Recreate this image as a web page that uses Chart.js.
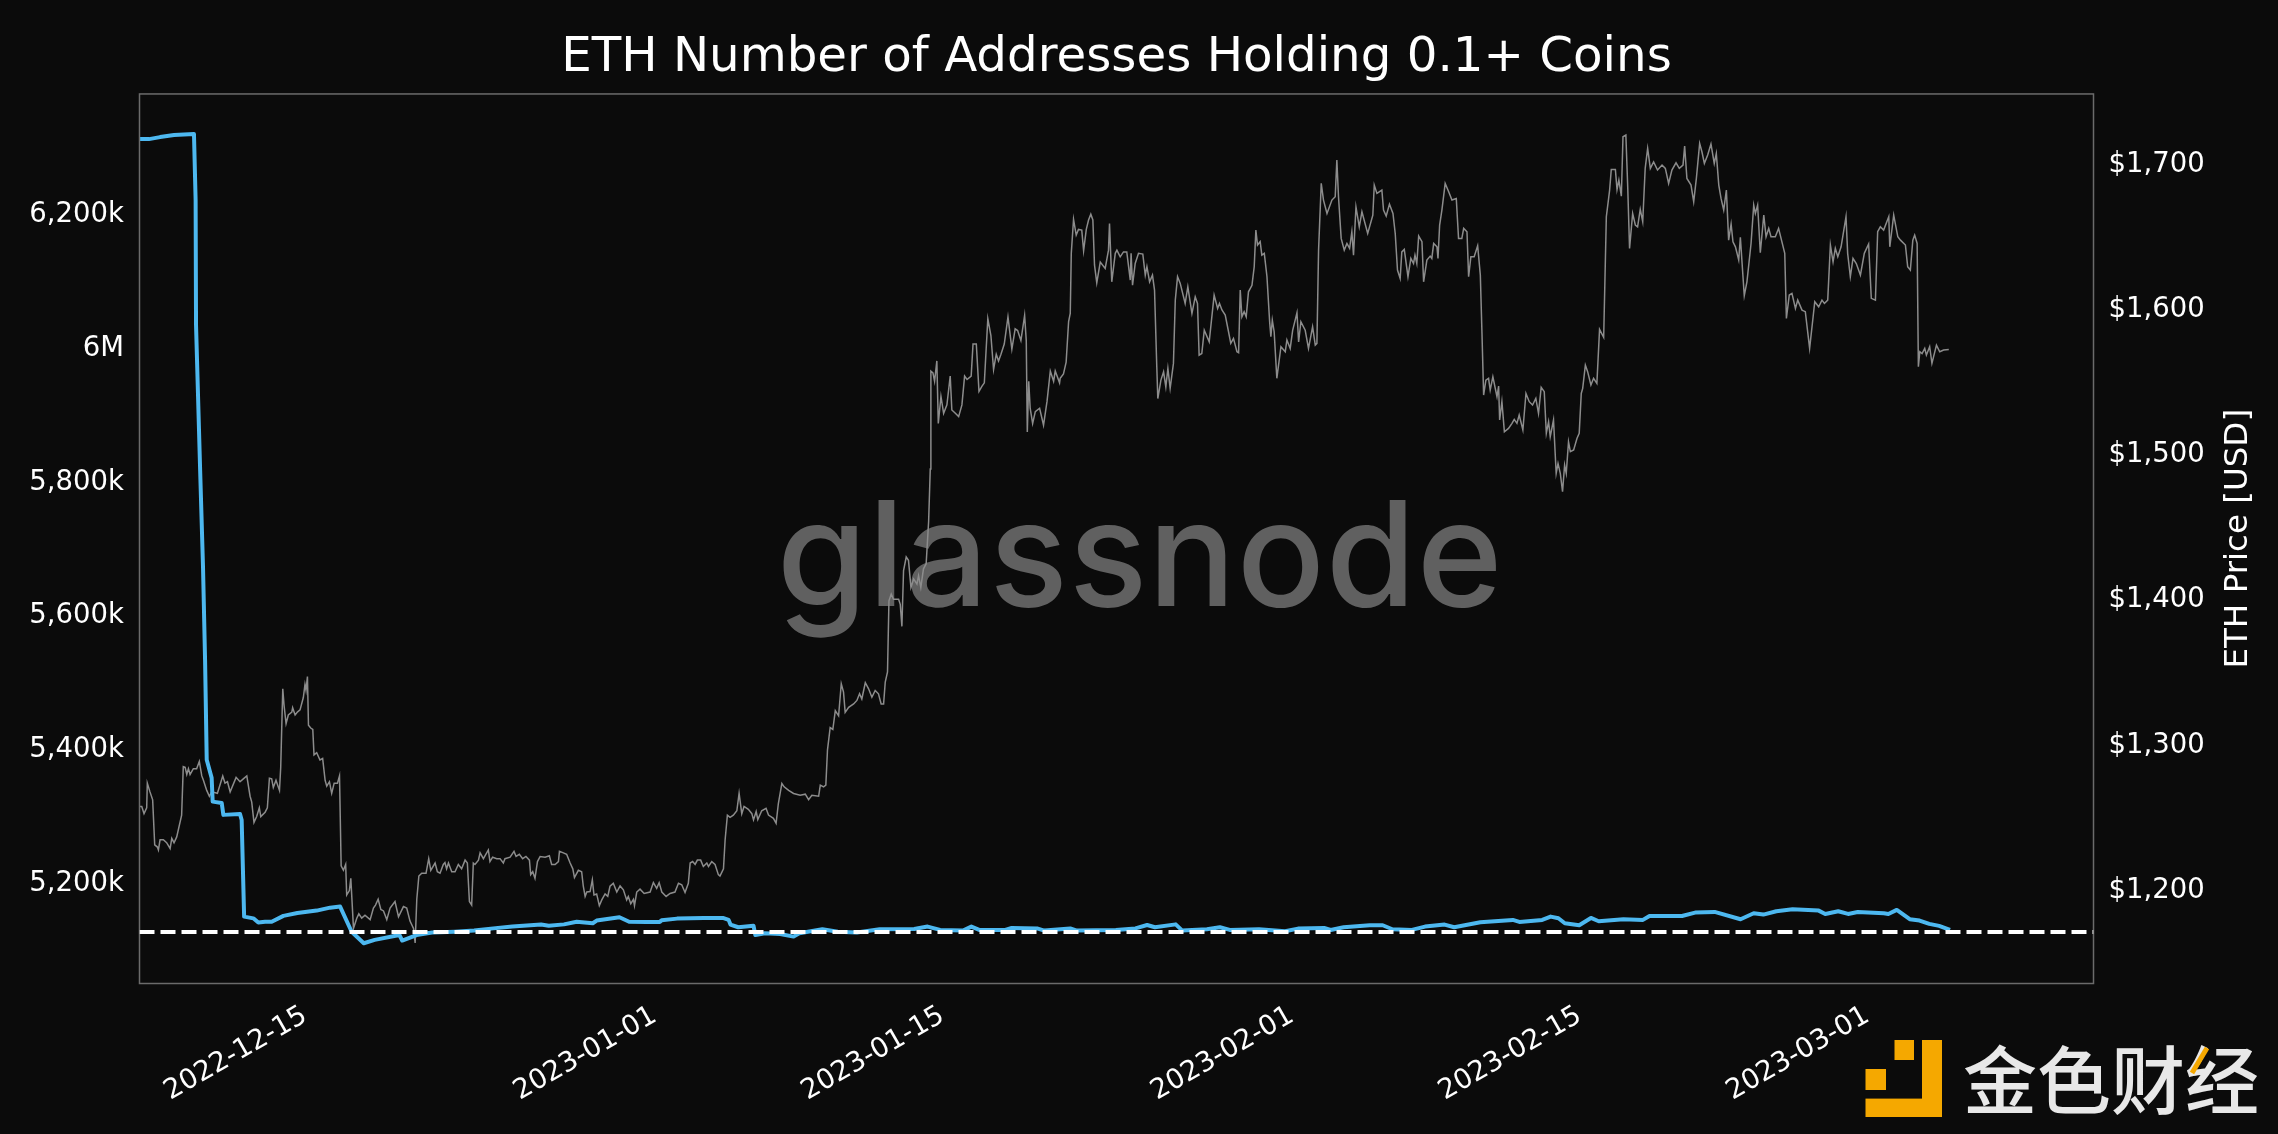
<!DOCTYPE html>
<html>
<head>
<meta charset="utf-8">
<style>
html,body{margin:0;padding:0;background:#0b0b0b;overflow:hidden}
#wrap{position:relative;width:2278px;height:1134px}
canvas{display:block;position:absolute;left:0;top:0;z-index:1}
#wm{position:absolute;left:640px;width:1000px;top:480px;text-align:center;font:500 146px/146px Inter,sans-serif;letter-spacing:0.8px;color:#606060;z-index:0;white-space:nowrap}
</style>
<script src="https://cdn.jsdelivr.net/npm/chart.js@4"></script>
</head>
<body>
<div id="wrap">
<div id="wm">glassnode</div>
<canvas id="c" width="2278" height="1134"></canvas>
</div>
<script>
// Days counted from 2022-12-01 (0 = Dec 1)
const xMin = 5.74, xMax = 100.8;
const xTickDays = [14, 31, 45, 62, 76, 90];
const xTickLabels = ['2022-12-15','2023-01-01','2023-01-15','2023-02-01','2023-02-15','2023-03-01'];
const leftTicks = [5200, 5400, 5600, 5800, 6000, 6200];
const leftTickLabels = ['5,200k','5,400k','5,600k','5,800k','6M','6,200k'];
const rightTicks = [1200, 1300, 1400, 1500, 1600, 1700];
const rightTickLabels = ['$1,200','$1,300','$1,400','$1,500','$1,600','$1,700'];
const thresholdValue = [5123.5, 5123.5];
const thresholdDays = [5.74, 100.8];

const holderDays = [5.77,6.20,6.74,7.42,8.39,8.47,8.49,8.69,8.83,8.93,9.01,9.25,9.30,9.74,9.82,10.63,10.71,10.83,11.28,11.52,11.85,12.17,12.74,13.42,14.36,15.01,
15.5,16.06,16.65,17.18,18.39,18.52,19.22,19.97,21.09,22.02,22.95,23.88,25.28,25.65,26.39,27.01,27.79,27.98,29.09,29.56,30.40,31.05,31.14,31.89,33.19,34.12,34.40,34.49,34.87,35.61,35.70,36.17,36.91,37.56,37.84,38.96,39.71,40.64,41.75,43.43,44.08,
44.69,45.8,46.21,46.59,47.86,48.17,49.44,49.76,51.02,51.34,53.24,54.19,54.76,55.14,56.15,56.47,57.67,58.30,58.78,60.20,61.47,62.10,63.37,63.69,64.32,65.59,66.22,66.69,67.64,68.28,69.23,69.70,70.97,72.55,72.87,73.98,74.39,74.77,75.08,75.78,76.35,76.73,77.93,78.88,79.20,80.78,81.42,82.37,83.63,84.27,84.74,85.37,86.16,87.43,87.75,88.38,88.86,89.33,90.60,90.82,91.23,91.86,92.34,92.81,93.29,93.82];
const holderCountK = [6309,6309,6312,6315,6316.6,6218,6031,5814,5669,5530,5381,5354,5318.5,5316.6,5298.7,5300,5291,5146.6,5144,5137.7,5139,5139,5147.7,5152,5155.6,5160,
5161.6,5124,5106.8,5111.8,5119,5110.8,5119,5122.7,5124,5125.7,5129,5131.7,5134.7,5133,5135,5139,5136.7,5140.7,5145.6,5139,5138.7,5138.7,5141,5143.6,5144.6,5144.6,5141.7,5134.7,5130.7,5133,5119,5121.7,5120.7,5116.7,5121.7,5127.7,5124,5122.7,5127.7,5128,5131.7,
5126.7,5125.7,5131.7,5126.7,5126.7,5129.7,5128.7,5125.7,5129,5125.7,5126.7,5129,5134,5130.7,5135,5125.7,5127.7,5130.7,5126.7,5127.7,5124.7,5128.7,5129.7,5126.7,5130.7,5133.7,5133.7,5127.7,5126.7,5131.7,5134.7,5130.7,5138.2,5141.7,5138.7,5141.7,5146.6,5144.1,5136.7,5133.7,5144.6,5139.7,5142.7,5141.7,5147.6,5147.6,5152.6,5153.6,5142.7,5151.6,5149.6,5154.6,5157.6,5155.6,5150.6,5154.6,5150.6,5153.6,5151.6,5150.6,5156.6,5142.7,5140.7,5135.7,5132.7,5126.7];

const priceDays = [5.77,5.85,5.96,6.09,6.12,6.25,6.38,6.48,6.61,6.66,6.74,6.90,7.06,7.23,7.31,7.42,7.55,7.79,7.87,7.96,8.04,8.12,8.20,8.36,8.52,8.65,8.77,8.85,9.01,9.14,9.25,9.53,9.79,9.90,10.02,10.15,10.44,10.63,10.79,10.96,11.12,11.20,11.31,11.44,11.57,11.64,11.85,11.96,12.06,12.17,12.25,12.38,12.55,12.61,12.71,12.77,12.87,12.98,13.15,13.19,13.31,13.42,13.55,13.71,13.79,13.84,13.91,13.96,14.07,14.17,14.23,14.36,14.52,14.65,14.77,14.85,14.98,15.09,15.21,15.37,15.47,15.55,15.66,15.77,15.82,15.95,16.02,16.15,16.31,16.41,16.55,16.71,16.96,17.12,17.22,17.35,17.48,17.61,17.77,17.93,18.17,18.34,18.58,18.74,18.90,19.07,19.15,19.23,19.33,19.47,19.68,19.81,19.91,20.12,20.23,20.36,
20.52,20.60,20.68,20.77,20.93,21.09,21.25,21.41,21.58,21.69,21.79,21.90,21.98,22.06,22.23,22.31,22.47,22.71,22.79,22.92,23.12,23.28,23.44,23.52,23.77,23.96,24.06,24.22,24.38,24.54,24.71,24.77,24.87,24.98,25.10,25.23,25.47,25.68,25.79,25.96,26.12,26.17,26.36,26.52,26.69,26.82,26.90,27.09,27.25,27.33,27.42,27.50,27.66,27.77,27.85,27.98,28.11,28.23,28.39,28.52,28.63,28.79,28.96,29.12,29.28,29.44,29.52,29.64,29.77,29.82,29.93,30.09,30.29,30.58,30.74,30.90,31.02,31.15,31.36,31.55,31.79,31.96,32.12,32.28,32.44,32.53,32.65,32.77,32.88,33.04,33.17,33.34,33.42,33.58,33.74,33.90,33.98,34.15,34.23,34.34,34.47,34.63,34.80,34.91,35.04,35.15,35.36,35.53,35.61,35.74,35.82,36.01,36.22,36.34,36.58,36.71,36.82,
36.99,37.10,37.32,37.56,37.88,38.13,38.29,38.45,38.78,38.86,39.02,39.13,39.21,39.34,39.47,39.59,39.75,39.88,39.99,40.07,40.24,40.48,40.64,40.77,40.88,41.05,41.21,41.37,41.53,41.69,41.82,41.94,42.02,42.13,42.20,42.31,42.42,42.67,42.75,42.83,42.91,43.04,43.15,43.27,43.40,43.56,43.64,43.75,43.88,44.01,44.13,44.21,44.24,44.34,44.42,44.53,44.60,44.73,44.86,45.02,45.18,45.26,45.43,45.59,45.75,45.88,46.0,46.20,46.29,46.45,46.58,46.72,46.84,47.01,47.16,47.29,47.42,47.53,47.65,47.81,47.99,48.18,48.34,48.46,48.62,48.80,48.88,48.93,49.0,49.07,49.19,49.32,49.53,49.72,49.89,50.05,50.21,50.29,50.50,
50.53,50.69,50.82,50.94,51.02,51.07,51.18,51.31,51.42,51.58,51.67,51.80,51.91,52.02,52.12,52.20,52.31,52.48,52.72,52.88,52.93,53.04,53.21,53.29,53.45,53.61,53.77,53.94,53.98,54.05,54.18,54.34,54.55,54.67,54.75,54.88,55.02,55.12,55.23,55.28,55.43,55.56,55.67,55.77,55.88,56.04,56.13,56.24,56.37,56.61,56.74,56.94,57.10,57.21,57.29,57.42,57.54,57.78,58.02,58.19,58.28,58.40,58.56,58.72,58.83,58.96,59.13,59.21,59.29,59.37,59.48,59.58,59.69,59.86,59.97,60.05,60.13,60.26,60.34,60.46,60.59,60.72,60.78,60.85,60.94,61.07,61.27,61.48,61.56,61.72,61.84,62.05,62.13,62.24,62.45,62.61,62.81,62.94,63.02,63.10,63.23,63.34,63.51,63.75,63.91,63.99,64.07,64.20,64.35,64.48,64.61,64.72,64.80,64.92,65.08,65.21,65.49,65.74,65.81,65.94,
66.18,66.26,66.39,66.55,66.72,66.83,66.94,67.07,67.15,67.27,67.45,67.59,67.72,67.79,67.88,67.97,68.13,68.21,68.37,68.53,68.61,68.70,68.86,68.91,68.99,69.10,69.26,69.43,69.59,69.80,69.91,70.07,70.16,70.32,70.40,70.51,70.67,70.84,70.97,71.05,71.13,71.24,71.37,71.45,71.58,71.78,71.86,71.91,72.02,72.14,72.34,72.51,72.62,72.75,72.86,73.04,73.19,73.35,73.51,73.67,73.80,73.93,74.08,74.18,74.29,74.37,74.53,74.66,74.75,74.86,74.97,75.07,75.15,75.26,75.35,75.51,75.67,75.78,75.88,75.95,76.08,76.19,76.35,76.48,76.64,76.77,76.97,77.10,77.26,77.34,77.54,77.62,77.71,77.83,77.91,78.05,78.14,78.23,78.38,78.51,78.62,78.75,78.87,78.99,79.11,79.24,79.40,79.59,79.81,79.97,80.13,80.29,80.49,80.65,80.83,80.91,81.02,81.22,81.35,81.48,81.64,
81.75,81.87,82.03,82.19,82.35,82.45,82.57,82.68,82.81,82.94,83.05,83.17,83.26,83.38,83.54,83.62,83.81,83.94,84.14,84.27,84.35,84.46,84.59,84.76,84.87,85.0,85.11,85.32,85.48,85.60,85.78,85.86,86.0,86.13,86.30,86.41,86.62,86.78,86.99,87.16,87.24,87.43,87.59,87.71,87.87,88.0,88.13,88.24,88.36,88.52,88.76,88.84,88.97,89.10,89.26,89.46,89.65,89.86,89.99,90.19,90.30,90.43,90.59,90.84,90.89,91.08,91.28,91.41,91.65,91.76,91.89,92.01,92.10,92.22,92.28,92.35,92.46,92.59,92.67,92.83,92.94,93.16,93.32,93.51,93.76,93.81];
const priceUsd = [1256,1256,1251,1255,1272,1266,1260.5,1229.5,1228,1226,1233,1233,1231,1227,1234,1231,1235,1250,1283.4,1283,1278,1282,1278,1282,1282,1287,1277,1274,1267,1263,1266,1265,1277,1272,1273,1266,1276,1273,1275,1277,1263,1259,1245,1249,1255,1249,1252,1255,1275.4,1275,1269,1274,1267,1283,1337,1326,1313,1319,1321,1324,1319,1321,1322.5,1331,1340,1336,1345.4,1312,1310,1309,1291.5,1293,1288,1289,1274,1270,1273,1265,1272,1272,1277,1215,1212,1216,1195,1198,1206.5,1172,1179,1182,1179,1181,1178,1186,1188,1192,1185,1184,1178,1186,1190.5,1180,1187,1186,1177,1172,1162,1192,1208,1210,1210,1220,1212,1217,1211,1210,
1216,1217.3,1213,1217,1211,1211,1216,1213,1219,1217,1190.5,1188,1217,1216,1219,1224,1220,1226,1218,1221,1220,1220,1217,1220,1221,1225,1221.5,1223,1220,1221.5,1219,1209,1211,1206.5,1218,1221.5,1221,1222,1216,1216,1218,1225,1224,1223,1217,1213,1207,1212,1211,1201,1194,1197,1197.3,1205.4,1195,1195.7,1187.7,1191.6,1195.7,1194,1201,1203,1197,1201.2,1198.5,1191.6,1194,1189,1192,1187.7,1197,1199,1196,1197,1203.5,1199.6,1203.5,1197,1194,1196,1197,1203,1202,1196.7,1203,1217,1218,1216,1219,1219,1214.6,1217,1214.6,1218,1216,1209,1208,1213,1233,1250,1248.5,1250,1253,1265,1251,1256,1254,1251,1246.7,1252.5,1247,1253,1254.7,1250,1247.8,1244.4,1258,
1271.8,1269.5,1267,1264.9,1263.7,1264.4,1260.7,1263.7,1263,1270.7,1269.5,1270.7,1295,1310.3,1309,1322,1318.4,1340.5,1334.7,1320.8,1324.2,1326.6,1329,1333.6,1330,1341.2,1337,1331.2,1335.9,1333.6,1326.6,1326.6,1341.7,1348.7,1397.6,1402.2,1398.7,1398.7,1395.2,1380,1418.5,1427.8,1425.5,1406.9,1412.7,1409.2,1415,1406.9,1419.7,1423.2,1452.3,1488.4,1555.9,1554.7,1548.9,1562.9,1519.8,1538.4,1526.8,1532.6,1552.4,1529.1,1526.8,1524.5,1532.6,1552.4,1550.1,1552.4,1574.5,1574.5,1541.9,1545.4,1547.8,1592,1580.4,1557,1567.5,1562.9,1567.5,1574.5,1593.2,1571,1585,1583.8,1576.9,1594.3,1576.9,1514,1548.9,1530.3,1519.8,1528,1530.3,1518.6,1535,1555.9,1548.9,1555.9,1547.8,
1550.9,1554,1562,1590,1595.6,1637,1660.4,1649.6,1653.5,1653,1638.8,1653.5,1660,1664,1660,1629,1616.7,1631,1626.6,1639.2,1657.6,1617.4,1637,1639.2,1634.6,1638,1638,1618.6,1637,1615,1630,1637,1636.5,1622,1627.8,1617.4,1622,1611.7,1558.9,1537,1549.7,1555.4,1545,1557.7,1544,1561.2,1604.8,1620.9,1616.3,1602.5,1614,1595.6,1607,1602.5,1566.9,1568,1584,1576,1608.2,1599,1602.5,1598,1594.5,1583,1575,1578.4,1569.2,1568.5,1611.7,1593.3,1596.8,1593.3,1610.5,1615,1627.8,1653,1642.7,1645,1635.8,1637,1620.9,1589.9,1579.6,1591,1583,1550.9,1572.7,1569.2,1577.3,1571.5,1584,1596,1576,1589.9,1584,1571.5,1586.4,1573.8,1575,1639.2,1685.2,1673.7,1664.5,1673.7,1676,1701.2,1676,1647.3,1639.2,1643.8,1640.4,1651.9,1635.8,1669,1655.3,1665.6,1650.7,1663.3,1684,1678.3,
1680.6,1666.8,1662.7,1670.9,1664.5,1650.7,1625.5,1619.7,1638,1639.7,1620.9,1633.5,1630,1635.8,1630,1648.9,1645,1617.4,1632.4,1635.1,1633.5,1643.8,1641.5,1633.5,1656.5,1666.8,1685.2,1679.4,1673.7,1674.8,1647.3,1647.3,1654.2,1651.9,1620.9,1634.7,1634.7,1642.2,1622,1581.9,1539.4,1549.7,1550.9,1542.8,1552,1538.2,1545.6,1522.2,1534.8,1514.1,1516.4,1519.9,1522.6,1519.9,1525.6,1515.3,1540.5,1534.8,1532.5,1537.1,1526.8,1544.7,1541.7,1513,1521,1510.7,1522.2,1485.4,1492.3,1485.4,1472.8,1491.2,1485.4,1507.2,1500.4,1501.5,1509.5,1513,1540.5,1544,1560,1555.5,1546.3,1550.9,1547.4,1584.6,1579.1,1662.2,1680.6,1694.8,1694.8,1681,1687.5,1676.4,1717.3,1718.5,1682.9,1640.4,1664.5,1656.5,1655.3,1667.3,1658.8,1695.5,1709.3,1695.5,1700,1694.4,1697.8,1695.5,1685.2,1694.4,1699.4,1695.5,1697.8,1710.9,1688.6,1684,1672.5,1688.6,1712.7,
1707,1699,1704.7,1712.3,1699,1705.8,1684,1674.8,1666.8,1680.6,1646.1,1657.2,1645,1641.5,1632.4,1648,1607.8,1617.4,1643.8,1670.2,1664.5,1670.2,1637.4,1663.4,1648.4,1654.2,1648.4,1648.4,1654.2,1647.3,1637,1592.2,1608.3,1609.4,1599.1,1604.8,1597.9,1596.8,1571.5,1593.3,1603.7,1600.2,1604.8,1602.5,1604.8,1642.7,1631.2,1640.4,1634.7,1641.5,1662.2,1637,1620.9,1633.5,1630,1622,1637,1643.4,1606,1604.8,1651.9,1655.3,1653,1662.2,1641.5,1663.4,1648.4,1646.1,1642.7,1627.8,1625.5,1646.1,1649.6,1643.8,1558.9,1569.2,1568,1571.5,1566.9,1572.7,1561.2,1573.8,1569.2,1570.4,1570.8];

const titleText = 'ETH Number of Addresses Holding 0.1+ Coins';
const rightAxisLabel = 'ETH Price [USD]';
const brandText = '金色财经';

const pairs = (xs, ys) => xs.map((x, i) => ({x, y: ys[i]}));
const FONT = '"DejaVu Sans"';
// The library's middle baseline sits a little above the reference's label centres.
const leftLabelNudge = 4.5, rightLabelNudge = 2, xLabelNudge = 0.2;

const decor = {
  id: 'decor',
  beforeDatasetsDraw(chart) {
    const c = chart.ctx, a = chart.chartArea;
    c.save();
    c.strokeStyle = '#6b6b6b';
    c.lineWidth = 1.5;
    c.strokeRect(a.left, a.top, a.right - a.left, a.bottom - a.top);
    c.restore();
  },
  afterDraw(chart) {
    const c = chart.ctx, a = chart.chartArea;
    c.save();
    c.translate(2239, (a.top + a.bottom) / 2);
    c.rotate(-Math.PI / 2);
    c.fillStyle = '#ffffff';
    c.font = '32.5px ' + FONT;
    c.textAlign = 'center';
    c.textBaseline = 'middle';
    c.fillText(rightAxisLabel, 0, 0);
    c.restore();
    c.save();
    c.fillStyle = '#f5a800';
    c.fillRect(1894.5, 1040, 19.5, 20);
    c.fillRect(1922, 1040, 20, 77);
    c.fillRect(1865.5, 1098.6, 76.5, 18.4);
    c.fillRect(1865.5, 1069, 20.5, 21);
    c.fillStyle = '#e8e8e8';
    c.font = '500 74px "Noto Sans CJK SC"';
    c.textAlign = 'left';
    c.textBaseline = 'middle';
    c.fillText(brandText, 1963, 1080);
    c.strokeStyle = '#f5a800';
    c.lineWidth = 5;
    c.beginPath();
    c.moveTo(2207, 1048);
    c.lineTo(2192, 1073);
    c.stroke();
    c.restore();
  }
};

new Chart(document.getElementById('c'), {
  type: 'line',
  plugins: [decor],
  data: {
    datasets: [
      {data: pairs(thresholdDays, thresholdValue), yAxisID: 'yL', borderColor: '#ffffff', borderWidth: 4, borderDash: [15, 6], pointRadius: 0},
      {data: pairs(holderDays, holderCountK), yAxisID: 'yL', borderColor: '#4db8f0', borderWidth: 4, pointRadius: 0, borderJoinStyle: 'round'},
      {data: pairs(priceDays, priceUsd), yAxisID: 'yR', borderColor: '#8c8c8c', borderWidth: 1.5, pointRadius: 0}
    ]
  },
  options: {
    responsive: false,
    animation: false,
    devicePixelRatio: 1,
    layout: {padding: 0},
    plugins: {
      legend: {display: false},
      tooltip: {enabled: false},
      title: {
        display: true, text: titleText, color: '#ffffff', fullSize: false,
        font: {family: FONT, size: 48.3, weight: 'normal'},
        padding: {top: 29, bottom: 7}
      }
    },
    scales: {
      x: {
        type: 'linear', min: xMin, max: xMax,
        grid: {display: false, drawTicks: false}, border: {display: false},
        afterBuildTicks(s) { s.ticks = xTickDays.map(v => ({value: v - xLabelNudge})); },
        afterFit(s) { s.height = 150.5; },
        ticks: {
          autoSkip: false, minRotation: 30, maxRotation: 30, color: '#ffffff', padding: 16,
          font: {family: FONT, size: 27.5},
          callback: (v, i) => xTickLabels[i]
        }
      },
      yL: {
        position: 'left', min: 5046.6, max: 6376.5,
        grid: {display: false, drawTicks: false}, border: {display: false},
        afterBuildTicks(s) { s.ticks = leftTicks.map(v => ({value: v - leftLabelNudge})); },
        afterFit(s) { s.width = 139.5; },
        ticks: {
          color: '#ffffff', padding: 15.5, font: {family: FONT, size: 27.5},
          callback: (v, i) => leftTickLabels[i]
        }
      },
      yR: {
        position: 'right', min: 1134, max: 1746.8,
        grid: {display: false, drawTicks: false}, border: {display: false},
        afterBuildTicks(s) { s.ticks = rightTicks.map(v => ({value: v - rightLabelNudge})); },
        afterFit(s) { s.width = 184.5; },
        ticks: {
          color: '#ffffff', padding: 15, font: {family: FONT, size: 27.5},
          callback: (v, i) => rightTickLabels[i]
        }
      }
    }
  }
});
</script>
</body>
</html>
